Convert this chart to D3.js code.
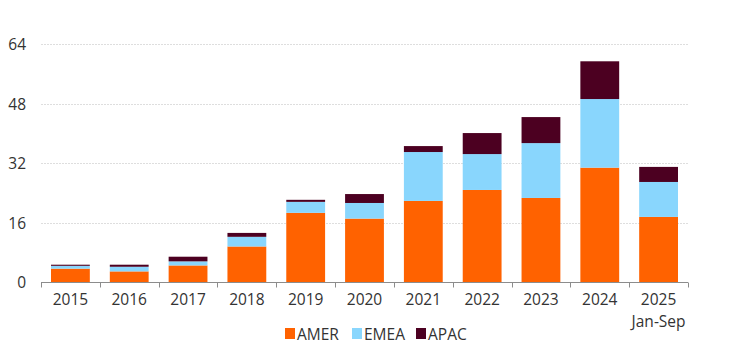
<!DOCTYPE html>
<html>
<head>
<meta charset="utf-8">
<script src="https://cdn.jsdelivr.net/npm/d3@7"></script>
<style>
  body { margin: 0; background: #fff; }
  svg text { font-family: 'Open Sans', sans-serif; fill: #333; }
</style>
</head>
<body>
<div id="chart"><svg></svg></div>
<script>
// values
const years = ['2015', '2016', '2017', '2018', '2019', '2020', '2021', '2022', '2023', '2024', '2025']
const yearNotes = { 2025: 'Jan-Sep' }
const seriesNames = ['AMER', 'EMEA', 'APAC']
const amer = [3.6, 2.85, 4.45, 9.55, 18.6, 17.05, 21.8, 24.75, 22.6, 30.75, 17.5]
const emea = [0.75, 1.25, 1.1, 2.6, 2.95, 4.2, 13.15, 9.65, 14.75, 18.45, 9.4]
const apac = [0.3, 0.55, 1.25, 1.05, 0.55, 2.4, 1.6, 5.65, 7.0, 10.15, 4.05]
const yTicks = [0, 16, 32, 48, 64]

const colors = { AMER: '#ff6200', EMEA: '#89d6fd', APAC: '#4c0021' }

const width = 741
const height = 350
const margin = { left: 41, right: 53, top: 44, bottom: 68 }
const fontSize = 15.5

const svg = d3.select('#chart').select('svg')
  .attr('width', width)
  .attr('height', height)

const rows = years.map((y, i) => ({ year: y, AMER: amer[i], EMEA: emea[i], APAC: apac[i] }))
const stacked = d3.stack().keys(seriesNames)(rows)

const x = d3.scaleBand()
  .domain(years)
  .range([margin.left, width - margin.right])
  .paddingInner(0.34)
  .paddingOuter(0.17)

const y = d3.scaleLinear()
  .domain([0, 64])
  .range([height - margin.bottom, margin.top])

// gridlines
svg.append('g')
  .attr('class', 'grid')
  .selectAll('line')
  .data(yTicks.filter((d) => d > 0))
  .enter()
  .append('line')
  .attr('x1', margin.left)
  .attr('x2', width - margin.right)
  .attr('y1', (d) => Math.round(y(d)) + 0.5)
  .attr('y2', (d) => Math.round(y(d)) + 0.5)
  .attr('stroke', '#dedede')
  .attr('stroke-dasharray', '2,1')

// y labels
svg.append('g')
  .selectAll('text')
  .data(yTicks)
  .enter()
  .append('text')
  .attr('x', 26)
  .attr('y', (d) => y(d))
  .attr('text-anchor', 'end')
  .attr('dominant-baseline', 'central')
  .attr('font-size', fontSize)
  .text((d) => d)

// bars
svg.append('g')
  .selectAll('g')
  .data(stacked)
  .enter()
  .append('g')
  .attr('fill', (s) => colors[s.key])
  .selectAll('rect')
  .data((s) => s)
  .enter()
  .append('rect')
  .attr('x', (d) => x(d.data.year))
  .attr('width', x.bandwidth())
  .attr('y', (d) => y(d[1]))
  .attr('height', (d) => y(d[0]) - y(d[1]))

// x axis: line with ticks on the band edges
const base = Math.round(y(0)) + 0.5
const edge = (d) => x(d) - x.step() * x.paddingInner() / 2
const axis = svg.append('g').attr('class', 'x axis')

axis.append('line')
  .attr('x1', margin.left)
  .attr('x2', width - margin.right)
  .attr('y1', base)
  .attr('y2', base)
  .attr('stroke', '#8c8c8c')

axis.selectAll('.tick')
  .data(years.concat(['end']))
  .enter()
  .append('line')
  .attr('class', 'tick')
  .attr('x1', (d) => Math.round(d === 'end' ? width - margin.right : edge(d)) + 0.5)
  .attr('x2', (d) => Math.round(d === 'end' ? width - margin.right : edge(d)) + 0.5)
  .attr('y1', base)
  .attr('y2', base + 5)
  .attr('stroke', '#8c8c8c')

const labels = axis.selectAll('text')
  .data(years)
  .enter()
  .append('text')
  .attr('text-anchor', 'middle')
  .attr('font-size', fontSize)
  .attr('x', (d) => x(d) + x.bandwidth() / 2)
  .attr('y', 305)

labels.append('tspan').text((d) => d)
labels.filter((d) => yearNotes[d])
  .append('tspan')
  .attr('x', (d) => x(d) + x.bandwidth() / 2)
  .attr('dy', 22)
  .text((d) => yearNotes[d])

// legend
const legendPos = [285, 352, 416]
const legend = svg.append('g')
  .selectAll('g')
  .data(seriesNames)
  .enter()
  .append('g')
  .attr('transform', (d, i) => 'translate(' + legendPos[i] + ',328)')

legend.append('rect')
  .attr('width', 10)
  .attr('height', 11)
  .attr('fill', (d) => colors[d])

legend.append('text')
  .attr('x', 12)
  .attr('y', 6)
  .attr('dominant-baseline', 'central')
  .attr('font-size', fontSize)
  .text((d) => d)
</script>
</body>
</html>
